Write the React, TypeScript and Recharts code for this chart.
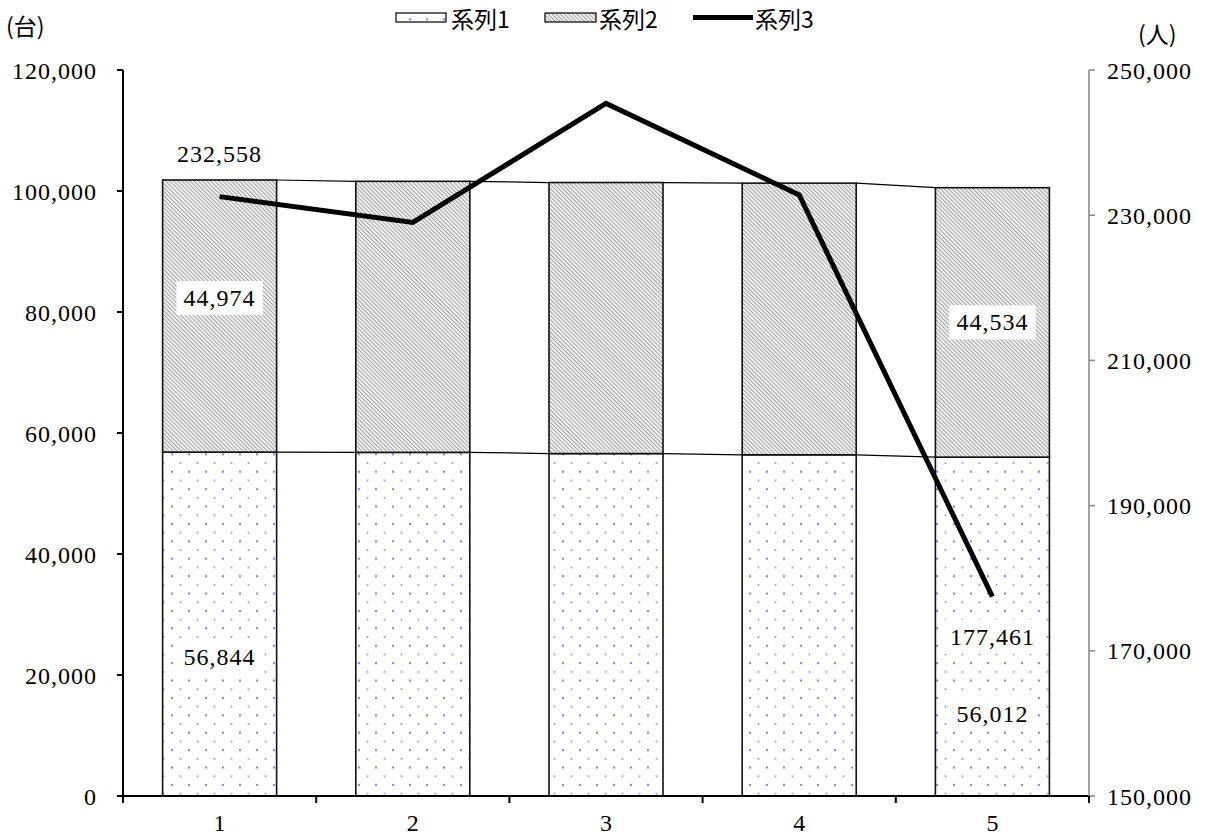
import * as React from "react";
import { ComposedChart, Bar, Line, XAxis, YAxis, LabelList } from "recharts";

const categories = ["1", "2", "3", "4", "5"];
const series1 = [56844, 56800, 56600, 56400, 56012];
const series2 = [44974, 44800, 44800, 44900, 44534];
const series3 = [232558, 229000, 245400, 232800, 177461];
const leftTicks = [0, 20000, 40000, 60000, 80000, 100000, 120000];
const rightTicks = [150000, 170000, 190000, 210000, 230000, 250000];

const data = categories.map((cat, i) => ({
  cat,
  s1: series1[i],
  s2: series2[i],
  s3: series3[i],
}));

const W = 1208;
const H = 839;
const LEFT_W = 123;
const RIGHT_W = 119;
const TOP = 70;
const X_H = 43;
const BAND = (W - LEFT_W - RIGHT_W) / categories.length;
const FONT = "'Liberation Serif', 'Times New Roman', 'DejaVu Serif', serif";
const JP_FONT = "'Noto Sans CJK JP', sans-serif";

const fmt = (v: number) => v.toLocaleString("en-US");

function Patterns({ prefix }: { prefix: string }) {
  return (
    <defs>
      <pattern id={`${prefix}dots`} patternUnits="userSpaceOnUse" width={17} height={17.4}>
        <rect width={17} height={17.4} fill="#fff" />
        <circle cx={2} cy={2} r={1.2} fill="#8484ff" />
        <circle cx={10.5} cy={10.7} r={1.1} fill="#9c9cff" />
      </pattern>
      <pattern
        id={`${prefix}hatch`}
        patternUnits="userSpaceOnUse"
        width={2.9}
        height={2.9}
        patternTransform="rotate(-45)"
      >
        <rect width={2.9} height={2.9} fill="#fff" />
        <line x1={0.7} y1={0} x2={0.7} y2={2.9} stroke="#9a9a9a" strokeWidth={1.15} />
      </pattern>
    </defs>
  );
}

// bar shape that also draws the series line to the next bar's top
function makeShape(stacked: boolean) {
  return (props: any) => {
    const { x, y, width, height, index, fill } = props;
    const i = index as number;
    let line: React.ReactNode = null;
    if (i < categories.length - 1) {
      const cur = stacked ? series2[i] : series1[i];
      const ppu = height / cur;
      const zeroY = stacked ? y + height + series1[i] * ppu : y + height;
      const nextTotal = stacked ? series1[i + 1] + series2[i + 1] : series1[i + 1];
      const ny = zeroY - nextTotal * ppu;
      line = (
        <line x1={x + width} y1={y} x2={x + BAND} y2={ny} stroke="#000" strokeWidth={1.2} />
      );
    }
    return (
      <g>
        <rect x={x} y={y} width={width} height={height} fill={fill} stroke="#111" strokeWidth={1.6} />
        {line}
      </g>
    );
  };
}

function makeLabel(values: number[], shifts: Record<number, number>, isBar: boolean) {
  return (props: any) => {
    const index = props.index as number;
    if (!(index in shifts)) return null;
    const vb = props.viewBox || {};
    const x = vb.x ?? props.x;
    const y = vb.y ?? props.y;
    const width = (isBar ? vb.width ?? props.width : 0) || 0;
    const height = (isBar ? vb.height ?? props.height : 0) || 0;
    const cx = x + width / 2;
    const cy = (isBar ? y + height / 2 : y) + shifts[index];
    const text = fmt(values[index]);
    const w = text.length * 12.4 + 12;
    return (
      <g>
        <rect x={cx - w / 2} y={cy - 17} width={w} height={34} fill="#fff" />
        <text
          x={cx}
          y={cy}
          textAnchor="middle"
          dominantBaseline="central"
          style={{ fontFamily: FONT, fontSize: 24, letterSpacing: 1 }}
          fill="#000"
        >
          {text}
        </text>
      </g>
    );
  };
}

function XTick(props: any) {
  const { x, y, payload, index } = props;
  return (
    <g>
      <line x1={x - BAND / 2} y1={y} x2={x - BAND / 2} y2={y + 7} stroke="#000" strokeWidth={2} />
      {index === categories.length - 1 && (
        <line x1={x + BAND / 2} y1={y} x2={x + BAND / 2} y2={y + 7} stroke="#000" strokeWidth={2} />
      )}
      <text
        x={x}
        y={y + 27}
        textAnchor="middle"
        dominantBaseline="central"
        style={{ fontFamily: FONT, fontSize: 24 }}
        fill="#000"
      >
        {payload.value}
      </text>
    </g>
  );
}

const tickStyle = { fontSize: 24, fill: "#000", fontFamily: FONT, letterSpacing: 1, style: { fontFamily: FONT } };

export default function App() {
  return (
    <div style={{ position: "absolute", left: 0, top: 0, width: W, height: H, background: "#fff", fontFamily: FONT }}>
      <ComposedChart
        width={W}
        height={H}
        data={data}
        margin={{ top: TOP, right: 0, left: 0, bottom: 0 }}
        barCategoryGap="20.5%"
        style={{ fontFamily: FONT }}
      >
        <Patterns prefix="c-" />
        <XAxis
          dataKey="cat"
          height={X_H}
          axisLine={{ stroke: "#000", strokeWidth: 2 }}
          tickLine={false}
          tickSize={0}
          tickMargin={0}
          tick={<XTick />}
          interval={0}
        />
        <YAxis
          yAxisId="left"
          orientation="left"
          width={LEFT_W}
          domain={[0, 120000]}
          ticks={leftTicks}
          tickFormatter={fmt}
          axisLine={{ stroke: "#000", strokeWidth: 2 }}
          tickLine={{ stroke: "#000", strokeWidth: 2 }}
          tickSize={6}
          tickMargin={20}
          tick={tickStyle}
          interval={0}
        />
        <YAxis
          yAxisId="right"
          orientation="right"
          width={RIGHT_W}
          domain={[150000, 250000]}
          ticks={rightTicks}
          tickFormatter={fmt}
          axisLine={{ stroke: "#8c8c8c", strokeWidth: 1.6 }}
          tickLine={{ stroke: "#8c8c8c", strokeWidth: 1.6 }}
          tickSize={6}
          tickMargin={12}
          tick={tickStyle}
          interval={0}
        />
        <Bar
          yAxisId="left"
          dataKey="s1"
          stackId="a"
          fill="url(#c-dots)"
          shape={makeShape(false)}
          isAnimationActive={false}
        >
          <LabelList content={makeLabel(series1, { 0: 33, 4: 87 }, true)} />
        </Bar>
        <Bar
          yAxisId="left"
          dataKey="s2"
          stackId="a"
          fill="url(#c-hatch)"
          shape={makeShape(true)}
          isAnimationActive={false}
        >
          <LabelList content={makeLabel(series2, { 0: -18, 4: 0 }, true)} />
        </Bar>
        <Line
          yAxisId="right"
          dataKey="s3"
          type="linear"
          stroke="#000"
          strokeWidth={5}
          dot={false}
          activeDot={false}
          isAnimationActive={false}
        >
          <LabelList content={makeLabel(series3, { 0: -43, 4: 40 }, false)} />
        </Line>
      </ComposedChart>

      <svg
        width={W}
        height={60}
        style={{ position: "absolute", left: 0, top: 0, pointerEvents: "none" }}
      >
        <Patterns prefix="l-" />
        <text x={6} y={25} dominantBaseline="central" style={{ fontFamily: JP_FONT, fontSize: 23 }} fill="#000">
          (台)
        </text>
        <text x={1138} y={33} dominantBaseline="central" style={{ fontFamily: JP_FONT, fontSize: 23 }} fill="#000">
          (人)
        </text>
        <rect x={396} y={13} width={50} height={9} fill="url(#l-dots)" stroke="#000" strokeWidth={1.2} />
        <text x={451} y={18} dominantBaseline="central" style={{ fontFamily: JP_FONT, fontSize: 23 }} fill="#000">
          系列1
        </text>
        <rect x={545} y={13} width={51} height={9} fill="url(#l-hatch)" stroke="#000" strokeWidth={1.2} />
        <text x={599} y={18} dominantBaseline="central" style={{ fontFamily: JP_FONT, fontSize: 23 }} fill="#000">
          系列2
        </text>
        <line x1={693} y1={17.5} x2={753} y2={17.5} stroke="#000" strokeWidth={5} />
        <text x={755} y={18} dominantBaseline="central" style={{ fontFamily: JP_FONT, fontSize: 23 }} fill="#000">
          系列3
        </text>
      </svg>
    </div>
  );
}
